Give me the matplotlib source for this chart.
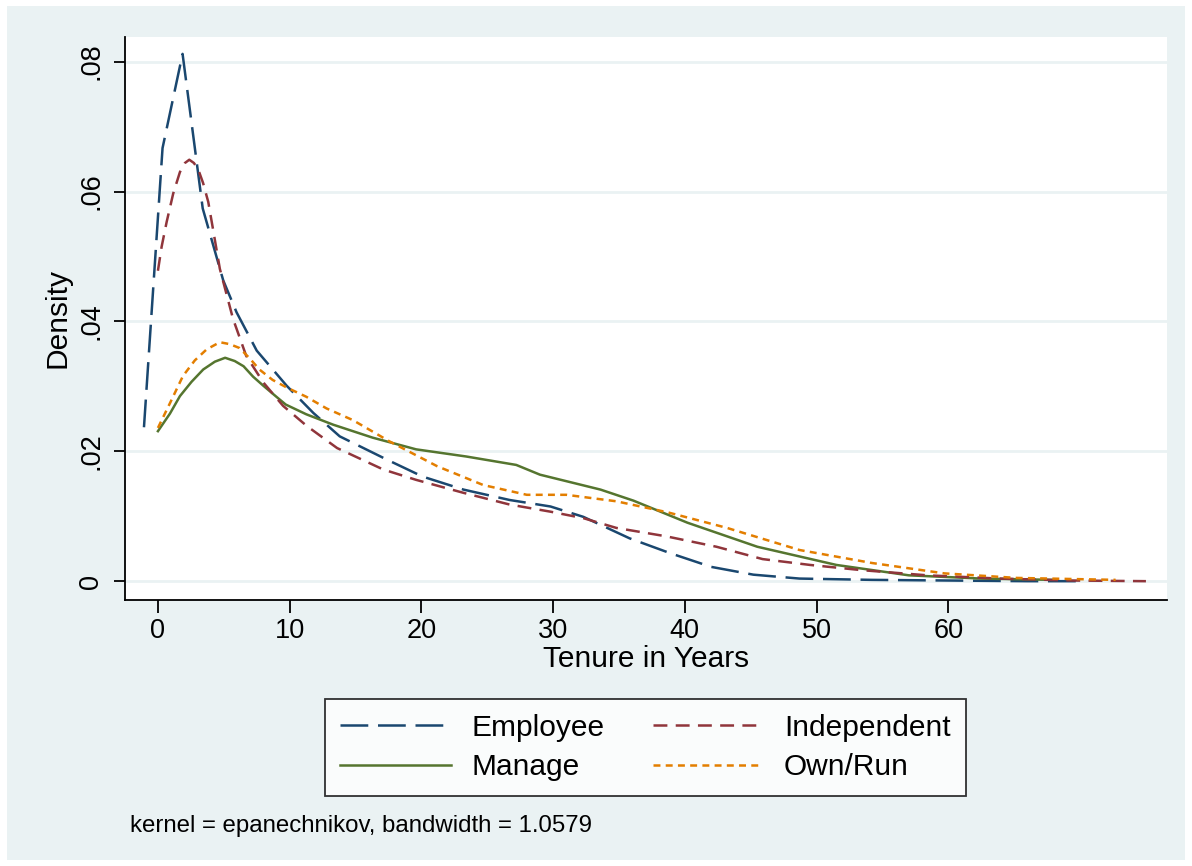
import matplotlib
matplotlib.use("Agg")
import matplotlib.pyplot as plt
from matplotlib.patches import Rectangle

plt.rcParams['font.family'] = ['Liberation Sans', 'DejaVu Sans']
plt.rcParams['lines.scale_dashes'] = False

# kernel density curves
employee_x = [-1.06, 0.35, 1.87, 3.4, 4.96, 5.97, 7.5, 9.77, 11.8, 13.8, 17.4, 20.1, 23.2, 26.7,
              29.8, 32.3, 35.8, 38.9, 42.0, 45.2, 48.7, 54.2, 60, 66, 70]
employee_y = [0.0237, 0.0667, 0.0812, 0.0574, 0.0463, 0.0414, 0.0355, 0.0301, 0.0259, 0.0223,
              0.0187, 0.0161, 0.0141, 0.0125, 0.0115, 0.0099, 0.0066, 0.0043, 0.0022, 0.0010,
              0.0004, 0.0002, 0.0001, 0.0, 0.0]

independent_x = [0, 0.28, 0.66, 1.16, 1.67, 2.05, 2.38, 2.73, 3.06, 3.43, 3.82, 4.19, 4.7, 5.7,
                 6.7, 8.0, 9.5, 11.3, 13.6, 17.1, 19.6, 23.2, 26.7, 29.8, 32.3, 34.8, 38.6,
                 42.4, 45.9, 49.5, 53.4, 58.4, 63.9, 69.4, 75]
independent_y = [0.0478, 0.0515, 0.0553, 0.0597, 0.0630, 0.0644, 0.0649, 0.0644, 0.0634, 0.0613,
                 0.0584, 0.0541, 0.0481, 0.0404, 0.0347, 0.0306, 0.027, 0.0239, 0.0205, 0.0172,
                 0.0156, 0.0136, 0.0118, 0.0107, 0.0097, 0.0082, 0.0069, 0.0053, 0.0034,
                 0.0025, 0.0017, 0.0009, 0.0004, 0.0001, 0.0]

manage_x = [0, 0.91, 1.67, 2.55, 3.44, 4.32, 5.1, 5.83, 6.5, 7.22, 8.0, 8.99, 9.7, 11.26, 13.3,
            16.3, 19.6, 23.4, 27.2, 29.0, 33.6, 36.1, 40.2, 45.5, 51.5, 57, 62.5, 68]
manage_y = [0.0231, 0.0258, 0.0285, 0.0307, 0.0326, 0.0338, 0.0344, 0.0339, 0.0331, 0.0315,
            0.0301, 0.0284, 0.0272, 0.0257, 0.0241, 0.0221, 0.0203, 0.0192, 0.0179, 0.0164,
            0.0141, 0.0124, 0.009, 0.0053, 0.0025, 0.0009, 0.0004, 0.0002]

ownrun_x = [0, 0.91, 1.9, 2.8, 3.7, 4.7, 5.45, 6.2, 6.97, 7.7, 8.7, 9.8, 11.26, 12.8, 14.8,
            17.6, 21.2, 24.7, 28, 31, 34.8, 38.7, 43.2, 48.7, 54.2, 59.7, 65.2, 72.7]
ownrun_y = [0.0236, 0.0274, 0.0316, 0.0340, 0.0357, 0.0368, 0.0365, 0.0359, 0.0343, 0.0326,
            0.0310, 0.0298, 0.0284, 0.0266, 0.0248, 0.0215, 0.0177, 0.0148, 0.0133, 0.0133,
            0.0123, 0.0106, 0.0082, 0.0048, 0.0028, 0.0012, 0.0005, 0.0002]

x_ticks = [0, 10, 20, 30, 40, 50, 60]
y_ticks = [0, 0.02, 0.04, 0.06, 0.08]
y_tick_labels = ['0', '.02', '.04', '.06', '.08']

bg = '#eaf2f3'
fig = plt.figure(figsize=(11.92, 8.66), dpi=100)
fig.patch.set_facecolor('white')
fig.patches.append(Rectangle((7 / 1192, 6 / 866), 1178 / 1192, 854 / 866,
                             transform=fig.transFigure, facecolor=bg, edgecolor='none', zorder=-10))

ax = fig.add_axes([125 / 1192, 266 / 866, 1042 / 1192, 563 / 866])
ax.set_facecolor('white')

ax.plot(employee_x, employee_y, color='#1a476f', lw=1.8, dashes=(20, 7), label='Employee')
ax.plot(manage_x, manage_y, color='#55752f', lw=1.8, label='Manage')
ax.plot(independent_x, independent_y, color='#90353b', lw=1.8, dashes=(10, 6), label='Independent')
ax.plot(ownrun_x, ownrun_y, color='#e37e00', lw=1.8, dashes=(5, 3.8), label='Own/Run')

ax.set_xlim(-2.5, 76.6)
ax.set_ylim(-0.0029, 0.0838)
ax.set_xticks(x_ticks)
ax.set_yticks(y_ticks)
ax.set_yticklabels(y_tick_labels, rotation=90, va='center')
ax.tick_params(axis='both', labelsize=19.5, width=1.3, direction='out')
ax.tick_params(axis='x', length=9, pad=4)
ax.tick_params(axis='y', length=8, pad=7)
ax.grid(axis='y', color=bg, lw=2)
ax.set_axisbelow(True)
for s in ['top', 'right']:
    ax.spines[s].set_visible(False)
for s in ['left', 'bottom']:
    ax.spines[s].set_linewidth(1.3)

ax.set_xlabel('Tenure in Years', fontsize=21.5, labelpad=1)
ax.set_ylabel('Density', fontsize=21.5, labelpad=5)

h, l = ax.get_legend_handles_labels()
leg = fig.legend(h, l, ncol=2, loc='center', bbox_to_anchor=(645.5 / 1192, 1 - 747.5 / 866),
                 fontsize=21.5, frameon=True, fancybox=False, edgecolor='black',
                 handlelength=3.7, handletextpad=0.7, columnspacing=1.6,
                 borderpad=0.5, labelspacing=0.38, borderaxespad=0)
leg.get_frame().set_linewidth(1.3)
leg.get_frame().set_facecolor('white')

fig.text(130 / 1192, 1 - 826 / 866, 'kernel = epanechnikov, bandwidth = 1.0579',
         fontsize=17.3, va='center', ha='left')

fig.savefig('out.png', dpi=100, facecolor='white')
